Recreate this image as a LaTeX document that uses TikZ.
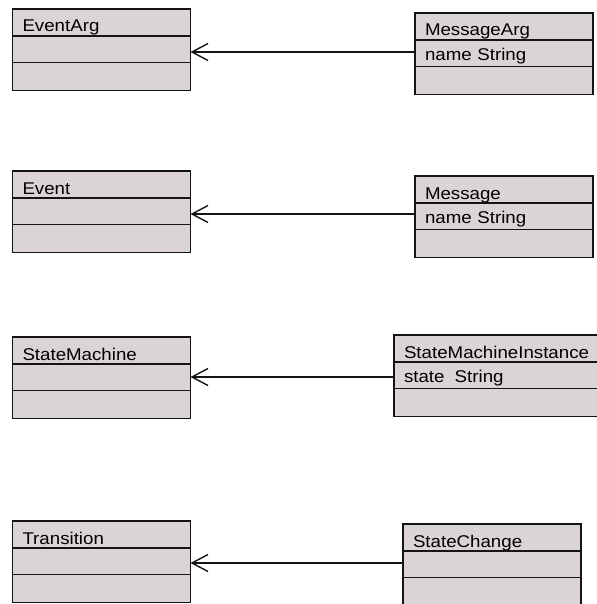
\documentclass[tikz,border=0pt]{standalone}
\usepackage{fontspec}
\setmainfont{Liberation Sans}
\newfontfamily\umlfont[FakeStretch=1.1]{Liberation Sans}
\usetikzlibrary{positioning, arrows.meta}
\definecolor{boxfill}{RGB}{218, 212, 212}
\definecolor{edgegray}{RGB}{20, 20, 20}

\begin{document}
\begin{tikzpicture}[
    x=1pt, y=-1pt,
    classname/.style={rectangle, draw=edgegray, fill=boxfill, line width=1.8pt, outer sep=0pt, minimum width=178pt, text width=158pt, align=left, inner xsep=10pt, inner ysep=4pt, text height=19pt, text depth=0pt, font=\umlfont\fontsize{17}{19}\selectfont},
    classattr/.style={classname, inner ysep=6pt, text height=14.5pt},
    classops/.style={classname, minimum height=28pt, text height=0pt},
    wide/.style={minimum width=204pt, text width=184pt},
    assoc/.style={line width=1.4pt, draw=edgegray, -{Straight Barb[length=16pt, width=17pt, line width=1.4pt]}}
]
\useasboundingbox (0,0) rectangle (596,604);

% EventArg / MessageArg
\node (eventarg) [classname, anchor=north west] at (12.5,9) {EventArg};
\node (eventarg_attr) [classattr, below=0pt of eventarg] {};
\node (eventarg_ops) [classops, below=0pt of eventarg_attr] {};
\node (messagearg) [classname, anchor=north west] at (415,13) {MessageArg};
\node (messagearg_attr) [classattr, below=0pt of messagearg] {name String};
\node (messagearg_ops) [classops, below=0pt of messagearg_attr] {};

% Event / Message
\node (event) [classname, anchor=north west] at (12.5,171) {Event};
\node (event_attr) [classattr, below=0pt of event] {};
\node (event_ops) [classops, below=0pt of event_attr] {};
\node (message) [classname, anchor=north west] at (415,176) {Message};
\node (message_attr) [classattr, below=0pt of message] {name String};
\node (message_ops) [classops, below=0pt of message_attr] {};

% StateMachine / StateMachineInstance
\node (statemachine) [classname, anchor=north west] at (12.5,337) {StateMachine};
\node (statemachine_attr) [classattr, below=0pt of statemachine] {};
\node (statemachine_ops) [classops, below=0pt of statemachine_attr] {};
\node (instance) [classname, wide, anchor=north west] at (394,335) {StateMachineInstance};
\node (instance_attr) [classattr, wide, below=0pt of instance] {state\hspace{0.6em}String};
\node (instance_ops) [classops, wide, below=0pt of instance_attr] {};

% Transition / StateChange
\node (transition) [classname, anchor=north west] at (12.5,521) {Transition};
\node (transition_attr) [classattr, below=0pt of transition] {};
\node (transition_ops) [classops, below=0pt of transition_attr] {};
\node (statechange) [classname, anchor=north west] at (403,524) {StateChange};
\node (statechange_attr) [classattr, below=0pt of statechange] {};
\node (statechange_ops) [classops, below=0pt of statechange_attr] {};

% Associations
\draw [assoc] (messagearg_attr.west |- 0,52) -- (eventarg_attr.east |- 0,52);
\draw [assoc] (message_attr.west |- 0,214) -- (event_attr.east |- 0,214);
\draw [assoc] (instance_attr.west |- 0,377) -- (statemachine_attr.east |- 0,377);
\draw [assoc] (statechange_attr.west |- 0,563) -- (transition_attr.east |- 0,563);

\end{tikzpicture}
\end{document}
